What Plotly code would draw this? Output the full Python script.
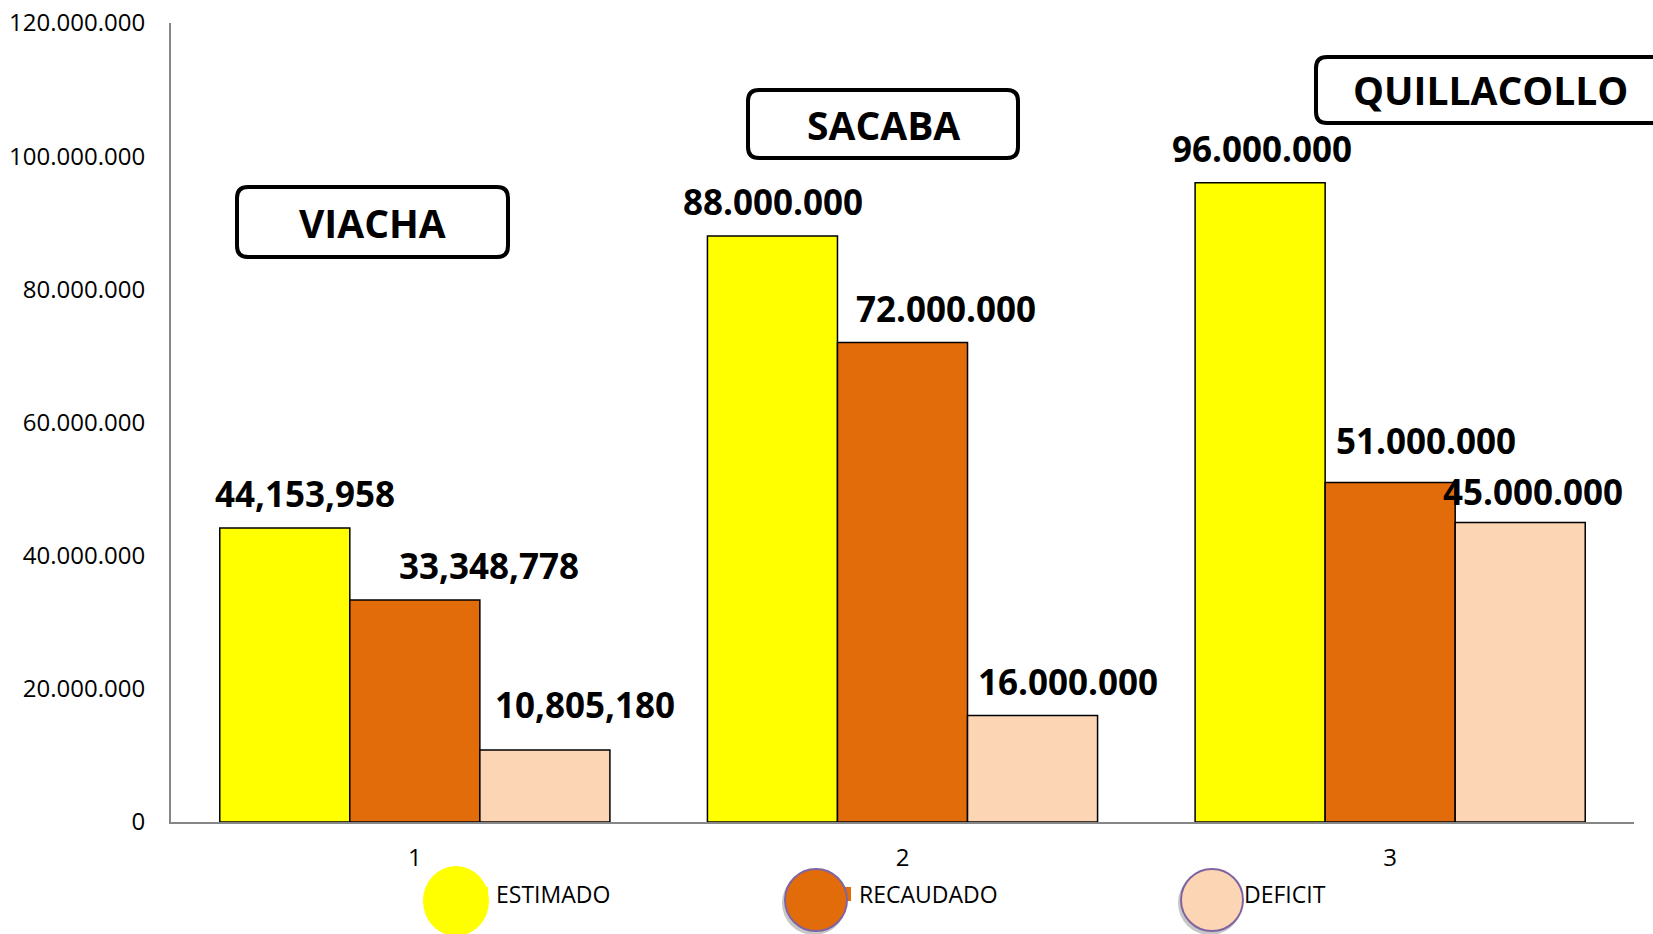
import plotly.graph_objects as go

# ---- data -------------------------------------------------------------
municipios = ["VIACHA", "SACABA", "QUILLACOLLO"]
categorias = [1, 2, 3]
series = ["ESTIMADO", "RECAUDADO", "DEFICIT"]
estimado = [44153958, 88000000, 96000000]
recaudado = [33348778, 72000000, 51000000]
deficit = [10805180, 16000000, 45000000]
# thousands separator used in each municipio's value labels
separador = [",", ".", "."]
y_ticks = [0, 20000000, 40000000, 60000000, 80000000, 100000000, 120000000]

# ---- styling -----------------------------------------------------------
colores = ["#FFFF00", "#E36C0A", "#FCD5B5"]
FONT = "Open Sans"
W, H = 1653, 934
PLOT_L, PLOT_T, PLOT_W, PLOT_H = 171, 23, 1463, 799
BAR_W = (1 - 0.2) / 3

# label offsets (pixels) relative to the top centre of each bar: (dx, dy)
label_off = [
    [(20, 35), (74, 34), (40, 46)],
    [(1, 35), (43, 34), (35, 34)],
    [(2, 34), (36, 42), (13, 31)],
]


def px(x):
    return (x - PLOT_L) / PLOT_W


def py(y):
    return (PLOT_T + PLOT_H - y) / PLOT_H


valores = [estimado, recaudado, deficit]

fig = go.Figure()
for name, vals, col in zip(series, valores, colores):
    fig.add_trace(go.Bar(
        x=categorias, y=vals, name=name,
        marker=dict(color=col, line=dict(color="#000000", width=1.5)),
        showlegend=False, hoverinfo="x+y+name",
    ))

annotations = []
# value labels above the bars
for s, vals in enumerate(valores):
    for g, v in enumerate(vals):
        txt = f"{v:,}".replace(",", separador[g])
        dx, dy = label_off[g][s]
        annotations.append(dict(
            x=categorias[g] + (s - 1) * BAR_W, y=v, xref="x", yref="y",
            text=txt, showarrow=False, xshift=dx, yshift=dy,
            xanchor="center", yanchor="middle",
            font=dict(family=FONT, size=35, color="#000000", weight="bold"),
        ))

# municipio name boxes (rounded rectangles) with their labels
cajas = [  # x0, x1, y0, y1 in pixels
    (237, 508, 187, 257),
    (748, 1018, 90, 158),
    (1316, 1664, 57, 123),
]
shapes = []
R = 11
for nombre, (x0, x1, y0, y1) in zip(municipios, cajas):
    rx, ry = R / PLOT_W, R / PLOT_H
    a, b, c, d = px(x0), px(x1), py(y1), py(y0)  # left, right, bottom, top
    path = (f"M {a+rx},{d} L {b-rx},{d} Q {b},{d} {b},{d-ry} "
            f"L {b},{c+ry} Q {b},{c} {b-rx},{c} L {a+rx},{c} "
            f"Q {a},{c} {a},{c+ry} L {a},{d-ry} Q {a},{d} {a+rx},{d} Z")
    shapes.append(dict(type="path", xref="paper", yref="paper", path=path,
                       line=dict(color="#000000", width=4),
                       fillcolor="rgba(255,255,255,0)", layer="above"))
    annotations.append(dict(
        x=px((x0 + x1) / 2), y=py((y0 + y1) / 2),
        xref="paper", yref="paper", text=nombre, showarrow=False,
        xanchor="center", yanchor="middle",
        font=dict(family=FONT, size=39, color="#000000", weight="bold"),
    ))

# legend: keys with round markers at the bottom
leyenda_txt_x = [494, 857, 1242]
leyenda_circ = [  # centre x, centre y, rx, ry
    (456, 901, 33, 35),
    (816, 900, 31, 31),
    (1212, 900, 31, 31),
]
LEG_Y = 894
for i, (name, col) in enumerate(zip(series, colores)):
    tx = leyenda_txt_x[i]
    shapes.append(dict(type="rect", xref="paper", yref="paper",
                       x0=px(tx - 20), x1=px(tx - 6), y0=py(LEG_Y + 7), y1=py(LEG_Y - 7),
                       fillcolor=col, line=dict(width=0), layer="above"))
    cx, cy, rx, ry = leyenda_circ[i]
    if i > 0:
        shapes.append(dict(type="circle", xref="paper", yref="paper",
                           x0=px(cx - rx - 3), x1=px(cx + rx - 1),
                           y0=py(cy + ry + 4), y1=py(cy - ry + 2),
                           fillcolor="rgba(0,0,0,0.22)", line=dict(width=0), layer="above"))
    shapes.append(dict(type="circle", xref="paper", yref="paper",
                       x0=px(cx - rx), x1=px(cx + rx), y0=py(cy + ry), y1=py(cy - ry),
                       fillcolor=col,
                       line=dict(color="#8064A2", width=2) if i > 0 else dict(width=0),
                       layer="above"))
    annotations.append(dict(
        x=px(tx), y=py(LEG_Y), xref="paper", yref="paper", text=name,
        xanchor="left", yanchor="middle", showarrow=False,
        font=dict(family=FONT, size=23, color="#000000"),
    ))

fig.update_layout(
    width=W, height=H,
    margin=dict(l=PLOT_L, r=W - PLOT_L - PLOT_W, t=PLOT_T, b=H - PLOT_T - PLOT_H, pad=0,
                autoexpand=False),
    barmode="group", bargap=0.2, bargroupgap=0,
    paper_bgcolor="#FFFFFF", plot_bgcolor="#FFFFFF",
    separators=",.",
    font=dict(family=FONT, size=23, color="#000000"),
    annotations=annotations, shapes=shapes,
    xaxis=dict(
        range=[0.5, 3.5], tickvals=categorias, ticktext=[str(c) for c in categorias],
        showgrid=False, zeroline=False, showline=True, linecolor="#868686", linewidth=2,
        ticks="", ticklabelstandoff=13, tickfont=dict(family=FONT, size=24),
        automargin=False,
    ),
    yaxis=dict(
        range=[0, 120000000], tickvals=y_ticks, tickformat=",d",
        showgrid=False, zeroline=False, showline=True, linecolor="#868686", linewidth=2,
        ticks="", ticklabelstandoff=19, tickfont=dict(family=FONT, size=24),
        automargin=False,
    ),
)

fig.write_html("out.html")
